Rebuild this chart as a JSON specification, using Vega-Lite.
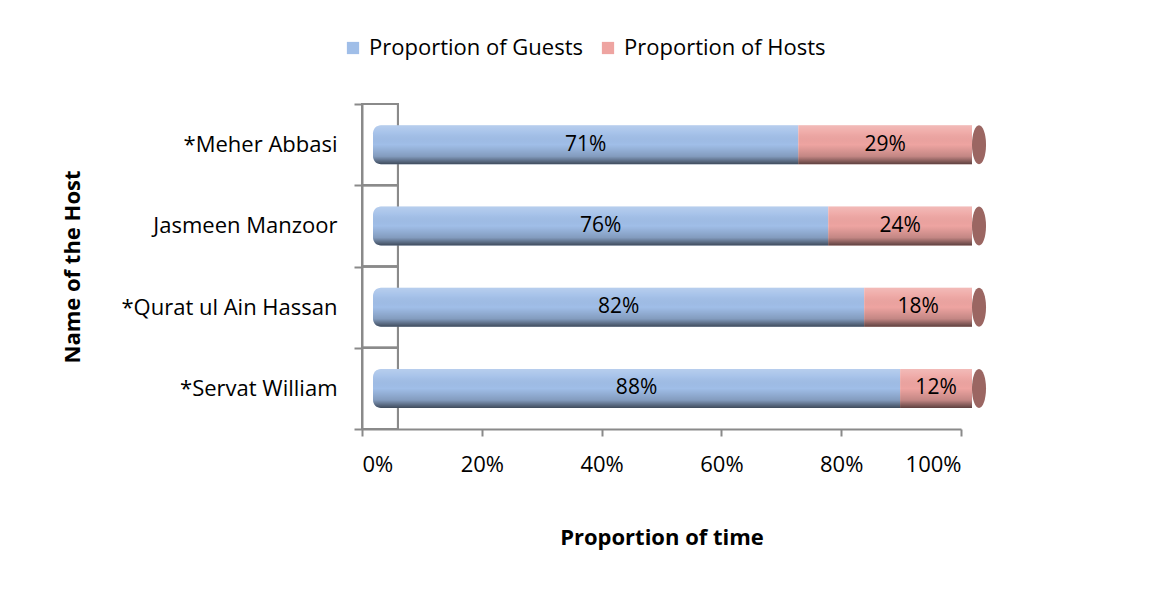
{
  "$schema": "https://vega.github.io/schema/vega-lite/v6.json",
  "width": 599,
  "height": 325,
  "autosize": "none",
  "padding": {"left": 362, "top": 104, "right": 200, "bottom": 161},
  "background": "white",
  "config": {
    "view": {"stroke": null},
    "font": "Open Sans",
    "axis": {"labelFont": "Open Sans", "titleFont": "Open Sans", "labelColor": "#000000", "titleColor": "#000000", "labelFontSize": 22, "titleFontSize": 22, "labelFontWeight": "normal", "titleFontWeight": "bold", "domainColor": "#8a8a8a", "domainWidth": 2, "tickColor": "#8a8a8a", "tickWidth": 2, "grid": false, "labelLimit": 400},
    "legend": {"labelFont": "Open Sans", "labelFontSize": 22, "labelColor": "#000000", "labelLimit": 400}
  },
  "data": {
    "values": [
      {"host": "*Meher Abbasi", "series": "Proportion of Guests", "value": 0.71},
      {"host": "*Meher Abbasi", "series": "Proportion of Hosts", "value": 0.29},
      {"host": "Jasmeen Manzoor", "series": "Proportion of Guests", "value": 0.76},
      {"host": "Jasmeen Manzoor", "series": "Proportion of Hosts", "value": 0.24},
      {"host": "*Qurat ul Ain Hassan", "series": "Proportion of Guests", "value": 0.82},
      {"host": "*Qurat ul Ain Hassan", "series": "Proportion of Hosts", "value": 0.18},
      {"host": "*Servat William", "series": "Proportion of Guests", "value": 0.88},
      {"host": "*Servat William", "series": "Proportion of Hosts", "value": 0.12}
    ]
  },
  "transform": [
    {"stack": "value", "groupby": ["host"], "sort": [{"field": "series", "order": "ascending"}], "as": ["v0", "v1"]},
    {"calculate": "(datum.v0 + datum.v1) / 2", "as": "mid"}
  ],
  "encoding": {
    "y": {
      "field": "host", "type": "nominal",
      "sort": ["*Meher Abbasi", "Jasmeen Manzoor", "*Qurat ul Ain Hassan", "*Servat William"],
      "scale": {"paddingInner": 0, "paddingOuter": 0},
      "axis": {"title": "Name of the Host", "tickBand": "extent", "tickSize": 8, "labelPadding": 17, "titlePadding": 78}
    }
  },
  "layer": [
    {
      "mark": {"type": "rect", "fillOpacity": 0, "stroke": "#8a8a8a", "strokeWidth": 2},
      "encoding": {
        "x": {"datum": 0, "type": "quantitative", "scale": {"domain": [0, 1]}},
        "x2": {"datum": 0.06}
      }
    },
    {
      "mark": {"type": "bar", "xOffset": 11, "x2Offset": 11, "height": {"band": 0.48}, "clip": false,
        "cornerRadiusTopLeft": {"expr": "datum.series === 'Proportion of Guests' ? 8 : 0"},
        "cornerRadiusBottomLeft": {"expr": "datum.series === 'Proportion of Guests' ? 8 : 0"}},
      "encoding": {
        "x": {"field": "v0", "type": "quantitative", "scale": {"domain": [0, 1]},
          "axis": {"title": "Proportion of time", "values": [0, 0.2, 0.4, 0.6, 0.8, 1], "format": ".0%", "tickSize": 7, "labelPadding": 18, "titlePadding": 52}},
        "x2": {"field": "v1"},
        "color": {
          "field": "series", "type": "nominal",
          "scale": {"domain": ["Proportion of Guests", "Proportion of Hosts"], "range": ["#a0bee8", "#eea4a1"]},
          "legend": {"title": null, "orient": "none", "direction": "horizontal", "legendX": -20, "legendY": -67, "symbolType": "square", "symbolSize": 150, "symbolStrokeWidth": 0, "symbolFillColor": null, "labelOffset": 5, "columnPadding": 14}
        }
      }
    },
    {
      "mark": {"type": "bar", "xOffset": 11, "x2Offset": 11, "height": {"band": 0.48}, "clip": false,
        "cornerRadiusTopLeft": {"expr": "datum.series === 'Proportion of Guests' ? 8 : 0"},
        "cornerRadiusBottomLeft": {"expr": "datum.series === 'Proportion of Guests' ? 8 : 0"},
        "fill": {"gradient": "linear", "x1": 0, "y1": 0, "x2": 0, "y2": 1, "stops": [
          {"offset": 0, "color": "rgba(255,255,255,0.25)"},
          {"offset": 0.2, "color": "rgba(255,255,255,0.08)"},
          {"offset": 0.5, "color": "rgba(0,0,0,0)"},
          {"offset": 0.8, "color": "rgba(0,0,0,0.18)"},
          {"offset": 1, "color": "rgba(0,0,0,0.6)"}
        ]}},
      "encoding": {
        "x": {"field": "v0", "type": "quantitative"},
        "x2": {"field": "v1"}
      }
    },
    {
      "transform": [{"filter": "datum.series === 'Proportion of Hosts'"}],
      "mark": {"type": "point", "shape": "M0,-1 A0.36,1 0 1,1 0,1 A0.36,1 0 1,1 0,-1 Z", "size": 1521, "filled": true, "fill": "#9b6662", "opacity": 1, "strokeWidth": 0, "xOffset": 18, "clip": false},
      "encoding": {
        "x": {"datum": 1, "type": "quantitative"}
      }
    },
    {
      "mark": {"type": "text", "xOffset": 11, "fontSize": 21, "font": "Open Sans", "color": "#000000", "align": "center", "baseline": "middle"},
      "encoding": {
        "x": {"field": "mid", "type": "quantitative"},
        "text": {"field": "value", "type": "quantitative", "format": ".0%"}
      }
    }
  ]
}
